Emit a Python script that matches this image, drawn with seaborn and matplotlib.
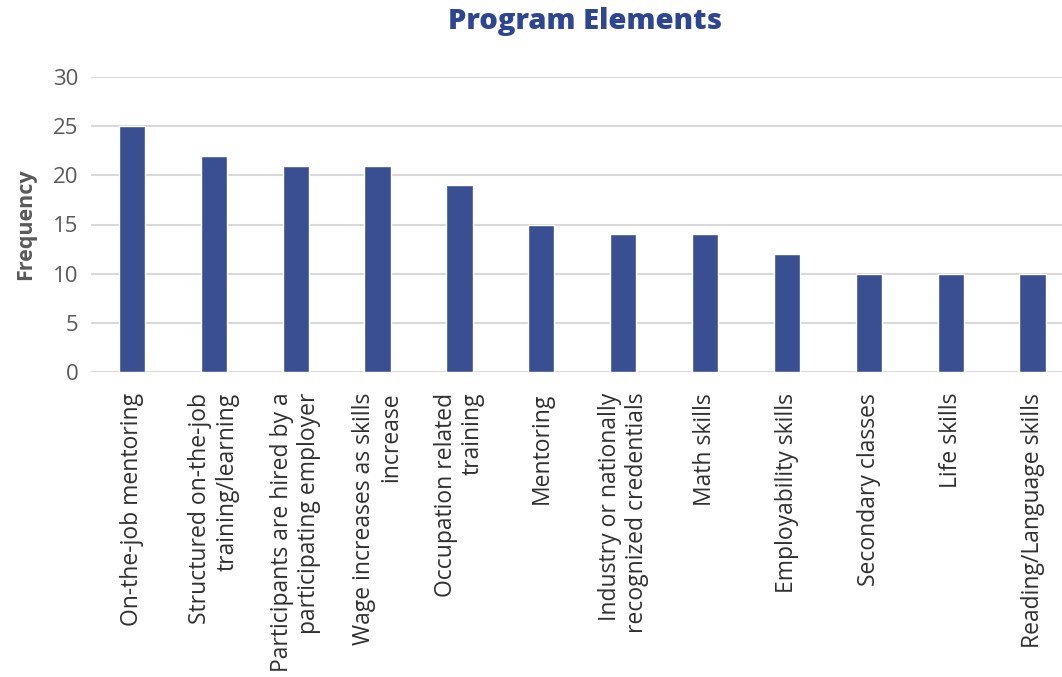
import matplotlib
matplotlib.use("Agg")
import matplotlib.pyplot as plt
import seaborn as sns
import pandas as pd

categories = [
    "On-the-job mentoring",
    "Structured on-the-job\ntraining/learning",
    "Participants are hired by a\nparticipating employer",
    "Wage increases as skills\nincrease",
    "Occupation related\ntraining",
    "Mentoring",
    "Industry or nationally\nrecognized credentials",
    "Math skills",
    "Employability skills",
    "Secondary classes",
    "Life skills",
    "Reading/Language skills",
]
frequency = [25, 22, 21, 21, 19, 15, 14, 14, 12, 10, 10, 10]
y_ticks = [0, 5, 10, 15, 20, 25, 30]

sns.set_theme(style="white")
plt.rcParams["font.family"] = ["Open Sans", "DejaVu Sans"]

df = pd.DataFrame({"element": categories, "frequency": frequency})

W, H = 1062, 677
fig = plt.figure(figsize=(W / 100, H / 100), dpi=100)
ax = fig.add_axes([91 / W, 1 - 372 / H, (1062 - 91) / W, (372 - 77) / H])

bar_color = "#3A4F91"
sns.barplot(data=df, x="element", y="frequency", color=bar_color,
            width=0.32, saturation=1, ax=ax, zorder=3)

ax.set_ylim(0, 30)
ax.set_xlim(-0.5, 11.36)
ax.set_yticks(y_ticks)
ax.yaxis.grid(True, color="#d9d9d9", linewidth=1.5, zorder=0)
ax.set_axisbelow(True)
for s in ax.spines.values():
    s.set_visible(False)
ax.tick_params(axis="both", length=0, colors="#404040")
ax.tick_params(axis="y", pad=9, labelsize=16)
ax.tick_params(axis="x", pad=15)

ax.set_xticks(range(len(categories)))
ax.set_xticklabels(categories, rotation=90, ha="center", va="top",
                   multialignment="right", color="#303030", fontsize=16.5,
                   linespacing=1.15)
for lbl in ax.get_yticklabels():
    lbl.set_color("#595959")

ax.set_xlabel("")
ax.set_ylabel("Frequency", fontsize=15.5, fontweight="bold", color="#595959", labelpad=12)

fig.text(585 / W, 1 - 22 / H, "Program Elements", ha="center", va="center",
         fontsize=21, fontweight="heavy", color="#2E4592")

fig.savefig("out.png", dpi=100)
